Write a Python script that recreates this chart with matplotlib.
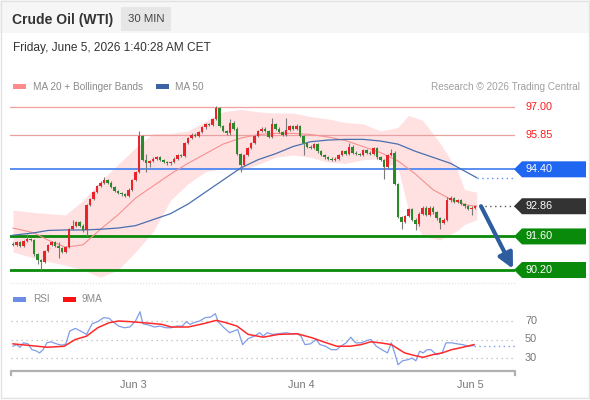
import matplotlib
matplotlib.use('agg')
import matplotlib.pyplot as plt
from matplotlib.patches import Polygon, Rectangle

plt.rcParams['font.family'] = ['Liberation Sans', 'DejaVu Sans']

# 30 min closes, Jun 2 ~07:00 -> Jun 5 01:30
closes = [91.25, 91.35, 91.2, 91.4, 91.5, 91.45, 90.85, 90.6, 90.55, 91.0,
          91.25, 91.35, 91.2, 91.1, 90.95, 91.15, 91.9, 92.05, 92.2, 92.05,
          91.85, 92.9, 93.15, 93.45, 93.7, 93.85, 93.95, 93.85, 93.65, 93.5,
          93.4, 93.35, 93.3, 93.55, 93.95, 94.3, 95.8, 94.8, 94.65, 94.75,
          94.85, 94.9, 94.8, 94.7, 94.65, 94.7, 94.85, 95.0, 94.95, 95.5,
          95.7, 95.85, 95.8, 95.95, 96.15, 96.3, 96.25, 96.5, 96.95, 96.2,
          96.0, 95.9, 96.35, 96.1, 95.05, 94.6, 95.0, 95.3, 95.5, 95.8,
          96.0, 96.1, 96.0, 95.75, 96.3, 96.1, 95.95, 95.85, 96.05, 96.2,
          96.1, 96.2, 95.8, 95.5, 95.35, 95.3, 95.45, 95.15, 95.0, 94.9,
          94.85, 94.8, 94.85, 95.0, 95.15, 95.05, 95.35, 95.1, 95.05, 95.0,
          95.2, 95.1, 95.05, 95.3, 94.9, 94.8, 94.5, 95.0, 95.1, 93.8,
          92.4, 92.2, 92.45, 92.75, 92.3, 92.1, 92.55, 92.8, 92.5, 92.8,
          92.6, 92.35, 92.15, 92.3, 93.1, 93.2, 93.05, 93.1, 92.95, 92.85,
          92.75, 92.8, 92.86]
first_open = 91.3
long_highs = {4: 91.7, 13: 91.35, 17: 92.3, 26: 94.1, 36: 96.0, 38: 95.05, 58: 97.05,
              59: 97.0, 62: 96.5, 74: 96.55, 78: 96.55, 81: 96.3, 96: 95.5, 108: 95.25,
              124: 93.25, 125: 93.3}
long_lows = {8: 90.2, 7: 90.45, 13: 90.7, 21: 91.6, 38: 94.3, 39: 94.5, 65: 94.3, 83: 95.0,
             106: 94.0, 111: 91.9, 115: 91.85, 122: 91.9, 131: 92.5}

ma_idx = [0, 6, 10, 15, 20, 25, 30, 35, 40, 45, 50, 55, 60, 65, 70, 75, 80, 85, 90, 95,
          100, 105, 110, 115, 120, 125, 130, 132.5]
ma20 = [91.95, 91.75, 91.45, 91.15, 91.25, 91.9, 92.5, 93.2, 93.7, 94.2, 94.65, 95.05,
        95.45, 95.7, 95.85, 95.9, 95.9, 95.85, 95.75, 95.6, 95.35, 95.1, 94.75, 94.2,
        93.55, 93.15, 92.9, 92.86]
ma50 = [91.65, 91.75, 91.85, 91.87, 91.87, 91.9, 91.95, 92.05, 92.3, 92.55, 92.95, 93.45,
        93.95, 94.45, 94.8, 95.05, 95.35, 95.55, 95.62, 95.65, 95.65, 95.58, 95.45, 95.15,
        94.9, 94.65, 94.25, 94.05]

bb_idx = [0, 6, 10, 15, 20, 25, 30, 35, 40, 45, 50, 55, 60, 65, 70, 75, 80, 85, 90, 95,
          100, 105, 110, 113, 117, 122, 127, 129, 132.5]
bb_up = [92.7, 92.6, 92.55, 92.5, 93.1, 93.9, 94.6, 95.3, 95.9, 95.9, 96.0, 96.4, 96.8,
         96.9, 96.8, 96.75, 96.75, 96.6, 96.5, 96.35, 96.3, 96.0, 96.15, 96.65, 96.45,
         95.5, 94.35, 93.55, 93.45]
bb_lo = [90.95, 90.7, 90.55, 90.4, 90.2, 89.9, 90.2, 90.95, 91.8, 93.1, 93.8, 94.3, 94.45,
         94.35, 94.6, 94.9, 95.0, 94.9, 94.7, 94.65, 94.8, 94.85, 94.45, 92.7, 91.6, 91.45,
         91.85, 92.1, 92.3]

levels = [97.00, 95.85, 94.40, 92.86, 91.60, 90.20]
last_price = 92.86
target = 90.20

rsi_idx = [0, 1, 2, 3, 4.3, 5.4, 6.5, 7.6, 8.6, 9.7, 10.8, 12.4, 14, 15.1, 16.2, 17.8, 19.4,
           21, 22.6, 24.2, 25.9, 27.5, 28.5, 30.2, 31.8, 33.4, 35, 36.3, 37.1, 38.8, 40.4,
           42, 43.6, 45.2, 46.8, 48.4, 49.5, 50.6, 51.7, 53.3, 54.9, 56.5, 57.8, 58.6, 60.3,
           61.9, 63, 64.2, 65.6, 67.2, 68.9, 70.5, 71.5, 72.6, 74.2, 75.8, 78, 79.6, 81.2,
           82.3, 83.4, 85, 86.6, 87.7, 89.3, 90.9, 92.5, 93.6, 95.2, 96.5, 97.9, 99.5, 101.1,
           102.2, 103.8, 105.4, 107, 108.1, 109.2, 110, 111.3, 112.9, 114, 115.1, 116.2,
           117.2, 118.3, 119.4, 121, 122.6, 123.7, 125.3, 126.9, 128.5, 130.1, 131.7]
rsi = [42.7, 44.5, 41.6, 46.4, 45.3, 39, 37.9, 35.5, 39, 46.4, 47.5, 45.3, 43.8, 45.3, 59,
       62, 59, 55.5, 67, 69.3, 73.6, 72.9, 69.3, 64.5, 62.7, 63.5, 70, 80, 67, 65.6, 63.5,
       64.5, 62.7, 62.7, 64.5, 64.5, 69.3, 66.4, 68.2, 70, 73.6, 74.3, 78, 69.3, 62.7,
       57.3, 59, 60.9, 44.5, 51, 53.6, 57.3, 53.6, 57.3, 55.5, 56.2, 57.3, 56.2, 56.2,
       53.6, 44.5, 45.3, 50, 44.5, 42.7, 39, 39, 42.7, 46.4, 52.5, 46.4, 46.4, 48.9,
       50, 42.7, 39, 35.5, 46.4, 33.6, 22.7, 27, 28.2, 30, 27, 37.3, 35.5, 39, 39, 33.6,
       35.5, 46.4, 46.4, 45.3, 44.5, 42.7, 43.5]
ma9_idx = [0, 7, 9.7, 14.6, 17.8, 21, 24.2, 27.5, 30.2, 33.4, 37.1, 42.5, 45.2, 50, 54.3,
           58.1, 60.8, 64, 67.2, 71.5, 75.8, 81.2, 85.5, 88.7, 92.5, 96.3, 99.5, 102.2,
           104.9, 108.1, 111.9, 114.5, 117.2, 119.9, 122.6, 125.3, 128.5, 131.7]
ma9 = [45.3, 42.7, 41.6, 42.7, 50, 53.6, 62.7, 68.2, 70, 69.3, 68.2, 66.4, 63.5, 63.5, 67,
       70.7, 68.2, 64.5, 55.5, 52.5, 55.5, 56.2, 51.8, 47.5, 42.7, 42.7, 44.5, 47.5, 46.4,
       44.5, 35.5, 32.9, 30.7, 33.6, 35.5, 39, 41.6, 44.5]
rsi_levels = [70, 50, 30]

day_idx = [34.3, 82.3, 130.6]
day_labels = ['Jun 3', 'Jun 4', 'Jun 5']


def px(x):
    # figure pixel -> candle index
    return (x - 13) / 3.5


W, H = 590, 400
fig = plt.figure(figsize=(W / 100, H / 100), dpi=100)

# background / header layer in pixel coords
bg = fig.add_axes([0, 0, 1, 1], zorder=0)
bg.set_xlim(0, W)
bg.set_ylim(H, 0)
bg.axis('off')
bg.add_patch(Rectangle((0, 0), W, 33, color='#f6f6f6', lw=0))
bg.add_patch(Rectangle((121, 7), 50, 24, color='#e6e6e6', lw=0))
bg.add_patch(Rectangle((0.5, 0.5), W - 2, H - 3, fill=False, ec='#e2e2e2', lw=1))
bg.text(12, 20, 'Crude Oil (WTI)', fontsize=10, fontweight='bold', color='#333333', va='center')
bg.text(146, 19.5, '30 MIN', fontsize=8.2, color='#444444', va='center', ha='center')
bg.text(13, 48, 'Friday, June 5, 2026 1:40:28 AM CET', fontsize=8.6, color='#333333', va='center')
bg.add_patch(Rectangle((13, 84), 13, 5, color='#ff8a8a', lw=0))
bg.text(33, 86.5, 'MA 20 + Bollinger Bands', fontsize=7.2, color='#8a8a8a', va='center')
bg.add_patch(Rectangle((156, 84), 13, 5, color='#3c64a4', lw=0))
bg.text(175, 86.5, 'MA 50', fontsize=7.2, color='#8a8a8a', va='center')
bg.text(580, 86.5, 'Research \u00a9 2026 Trading Central', fontsize=7.2, color='#a0a0a0',
        va='center', ha='right')
bg.plot([10, 515], [282.5, 282.5], ls=':', color='#e0e0e0', lw=0.8)
bg.add_patch(Rectangle((13, 297), 13, 5, color='#6b8de6', lw=0))
bg.text(33, 299.5, 'RSI', fontsize=7.2, color='#8a8a8a', va='center')
bg.add_patch(Rectangle((63, 297), 13, 5, color='#ff1010', lw=0))
bg.text(82, 299.5, '9MA', fontsize=7.2, color='#8a8a8a', va='center')
bg.plot([11, 11, 515, 515], [375, 370.5, 370.5, 375], color='#b0b0b0', lw=1.6)

# price panel
ax = fig.add_axes([10 / W, 1 - 283 / H, 505 / W, 188 / H], zorder=1)
ax.patch.set_alpha(0)
ax.set_xlim(px(10), px(515))
ax.set_ylim(97 - 176 / 23.97, 97 + 12 / 23.97)
ax.axis('off')

ax.fill_between(bb_idx, bb_lo, bb_up, color='#ffe1e1', lw=0, zorder=1)
ax.axhline(97.00, color='#f4a0a0', lw=0.9, zorder=2)
ax.axhline(95.85, color='#e9a0a0', lw=0.9, zorder=2)
ax.axhline(94.40, color='#5b8ef0', lw=1.4, zorder=2)
ax.axhline(91.60, color='#0a8a0a', lw=2, zorder=2)
ax.axhline(90.20, color='#0a8a0a', lw=2, zorder=2)
ax.plot(ma_idx, ma20, color='#f59090', lw=0.8, zorder=3)
ax.plot(ma_idx, ma50, color='#4a6fae', lw=0.9, zorder=3)
ax.plot([px(477), px(515)], [ma50[-1]] * 2, ls=(0, (1, 2.5)), color='#5b8ef0', lw=1, zorder=3)
ax.plot([px(480), px(515)], [last_price] * 2, ls=(0, (1, 2.5)), color='#555555', lw=1, zorder=3)

prev = first_open
for i, c in enumerate(closes):
    o = prev
    hi = long_highs.get(i, max(o, c) + 0.05)
    lo = long_lows.get(i, min(o, c) - 0.05)
    col = '#e8232a' if c >= o else '#2a8a2a'
    ax.vlines(i, lo, hi, color='#7a7a7a', lw=0.8, zorder=4)
    ax.bar(i, max(abs(c - o), 0.04), bottom=min(o, c), width=0.72, color=col, lw=0, zorder=5)
    prev = c

ax.annotate('', xy=(px(513), target + 0.05), xytext=(px(481), last_price),
            arrowprops=dict(arrowstyle='-|>,head_width=0.45,head_length=0.9',
                            color='#2d5d9f', lw=3, shrinkA=0, shrinkB=0), zorder=6)

half = 8 / 23.97
for lev, colr in [(94.40, '#1f66f0'), (92.86, '#333333'), (91.60, '#0a8a0a'), (90.20, '#0a8a0a')]:
    poly = Polygon([(px(514), lev), (px(522), lev + half), (px(586), lev + half),
                    (px(586), lev - half), (px(522), lev - half)],
                   closed=True, color=colr, lw=0, clip_on=False, zorder=6)
    ax.add_patch(poly)
    ax.text(px(525), lev, '%.2f' % lev, color='white', fontsize=7.8, va='center',
            clip_on=False, zorder=7)
for lev in [97.00, 95.85]:
    ax.text(px(525), lev, '%.2f' % lev, color='#ff1a1a', fontsize=7.8, va='center',
            clip_on=False, zorder=7)

# RSI panel
ar = fig.add_axes([10 / W, 1 - 370 / H, 505 / W, 65 / H], zorder=1)
ar.patch.set_alpha(0)
ar.set_xlim(px(10), px(515))
ar.set_ylim(70 - 49 / 0.925, 70 + 16 / 0.925)
for s in ar.spines.values():
    s.set_visible(False)
for lv in rsi_levels:
    ar.plot([px(11), px(513)], [lv, lv], ls=(0, (1, 3)), color='#b8b8b8', lw=0.9)
    ar.text(px(525), lv, str(lv), color='#777777', fontsize=7.8, va='center', clip_on=False)
ar.plot(rsi_idx, rsi, color='#7f9de8', lw=0.9)
ar.plot(ma9_idx, ma9, color='#ff2a2a', lw=1.1)
ar.plot([rsi_idx[-1], px(515)], [rsi[-1]] * 2, ls=(0, (1, 2.5)), color='#7f9de8', lw=1)
ar.set_yticks([])
ar.set_xticks(day_idx)
ar.set_xticklabels(day_labels, fontsize=7.8, color='#777777')
ar.tick_params(axis='x', length=0, pad=7)

fig.savefig('out.png', dpi=100)
